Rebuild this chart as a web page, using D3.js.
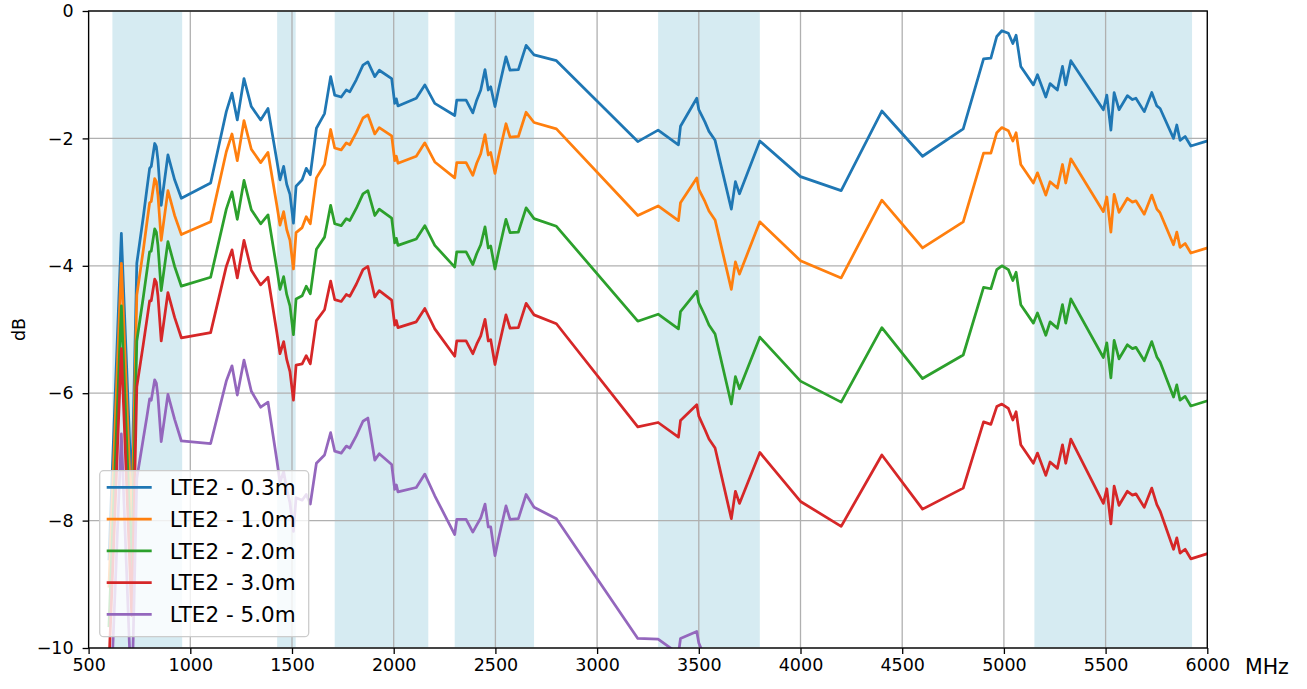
<!DOCTYPE html>
<html><head><meta charset="utf-8">
<script src="https://cdn.jsdelivr.net/npm/d3@7"></script>
<style>body{margin:0;background:#fff} svg{display:block} text{font-family:"DejaVu Sans",sans-serif}</style>
</head><body><svg id="chart" width="1307" height="689"></svg>
<script>
const freqs = [600,661,712,737,769,786,800,808,825,833,841,857,890,923,956,1100,1177,1205,1231,1264,1300,1346,1382,1425,1441,1459,1474,1490,1507,1520,1550,1570,1590,1620,1660,1690,1710,1742,1767,1784,1816,1849,1873,1907,1929,1990,2005,2013,2021,2111,2153,2202,2300,2310,2356,2389,2408,2428,2449,2465,2477,2498,2515,2552,2572,2613,2651,2690,2800,3200,3300,3400,3410,3490,3500,3530,3550,3580,3660,3680,3700,3800,4000,4200,4400,4600,4800,4900,4936,4965,4990,5022,5044,5060,5083,5145,5165,5206,5227,5263,5288,5304,5329,5489,5506,5526,5542,5566,5607,5632,5649,5690,5727,5752,5768,5834,5850,5866,5891,5919,6000];
const lte03 = [-8.60,-3.49,-7.60,-3.96,-3.23,-2.81,-2.47,-2.44,-2.08,-2.13,-2.34,-3.05,-2.26,-2.65,-2.94,-2.70,-1.58,-1.29,-1.71,-1.06,-1.50,-1.71,-1.53,-2.34,-2.65,-2.44,-2.72,-2.88,-3.33,-2.75,-2.65,-2.47,-2.57,-1.84,-1.61,-1.03,-1.32,-1.35,-1.24,-1.27,-1.08,-0.85,-0.80,-1.03,-0.93,-1.06,-1.45,-1.38,-1.49,-1.37,-1.16,-1.45,-1.64,-1.40,-1.40,-1.60,-1.40,-1.24,-0.92,-1.24,-1.19,-1.50,-1.24,-0.72,-0.93,-0.92,-0.54,-0.69,-0.78,-2.05,-1.87,-2.10,-1.81,-1.37,-1.55,-1.74,-1.89,-2.03,-3.11,-2.68,-2.87,-2.04,-2.60,-2.82,-1.57,-2.28,-1.85,-0.75,-0.74,-0.40,-0.31,-0.35,-0.51,-0.38,-0.87,-1.16,-1.00,-1.35,-1.14,-1.24,-0.87,-1.16,-0.78,-1.55,-1.32,-1.87,-1.28,-1.55,-1.33,-1.39,-1.37,-1.58,-1.28,-1.49,-1.53,-2.00,-1.79,-2.03,-1.97,-2.12,-2.04];
const lte10 = [-9.03,-3.96,-8.09,-4.46,-3.75,-3.34,-3.01,-2.99,-2.63,-2.68,-2.89,-3.60,-2.82,-3.21,-3.51,-3.31,-2.21,-1.93,-2.35,-1.72,-2.17,-2.38,-2.22,-3.04,-3.36,-3.15,-3.43,-3.60,-4.05,-3.48,-3.40,-3.23,-3.34,-2.62,-2.41,-1.86,-2.15,-2.18,-2.07,-2.10,-1.91,-1.68,-1.63,-1.93,-1.83,-1.96,-2.35,-2.28,-2.39,-2.28,-2.07,-2.37,-2.62,-2.38,-2.38,-2.58,-2.39,-2.24,-1.94,-2.26,-2.22,-2.55,-2.29,-1.77,-1.98,-1.97,-1.59,-1.75,-1.85,-3.21,-3.06,-3.29,-3.01,-2.62,-2.80,-2.99,-3.14,-3.28,-4.37,-3.94,-4.13,-3.31,-3.92,-4.19,-2.97,-3.72,-3.31,-2.23,-2.23,-1.91,-1.83,-1.88,-2.04,-1.91,-2.41,-2.70,-2.54,-2.89,-2.68,-2.78,-2.41,-2.70,-2.32,-3.15,-2.92,-3.47,-2.88,-3.16,-2.94,-3.00,-2.98,-3.19,-2.89,-3.11,-3.17,-3.67,-3.47,-3.71,-3.65,-3.80,-3.72];
const lte20 = [-9.65,-4.63,-8.79,-5.18,-4.49,-4.10,-3.78,-3.77,-3.42,-3.47,-3.68,-4.39,-3.62,-4.01,-4.32,-4.18,-3.11,-2.84,-3.27,-2.66,-3.12,-3.34,-3.20,-4.04,-4.37,-4.17,-4.45,-4.63,-5.08,-4.52,-4.47,-4.32,-4.44,-3.74,-3.55,-3.05,-3.34,-3.37,-3.26,-3.29,-3.10,-2.87,-2.82,-3.21,-3.11,-3.25,-3.64,-3.57,-3.68,-3.58,-3.37,-3.68,-4.02,-3.78,-3.78,-3.98,-3.81,-3.67,-3.39,-3.72,-3.69,-4.05,-3.79,-3.27,-3.48,-3.47,-3.09,-3.26,-3.38,-4.87,-4.76,-4.99,-4.72,-4.40,-4.58,-4.78,-4.93,-5.07,-6.17,-5.74,-5.93,-5.12,-5.81,-6.14,-4.97,-5.77,-5.40,-4.34,-4.36,-4.06,-4.00,-4.06,-4.23,-4.10,-4.61,-4.90,-4.74,-5.09,-4.88,-4.98,-4.61,-4.90,-4.52,-5.44,-5.21,-5.76,-5.17,-5.46,-5.24,-5.30,-5.28,-5.49,-5.19,-5.43,-5.51,-6.06,-5.87,-6.11,-6.05,-6.20,-6.12];
const lte30 = [-10.27,-5.30,-9.49,-5.90,-5.23,-4.86,-4.55,-4.55,-4.21,-4.26,-4.47,-5.18,-4.42,-4.81,-5.13,-5.05,-4.01,-3.75,-4.19,-3.60,-4.07,-4.30,-4.18,-5.04,-5.38,-5.19,-5.47,-5.66,-6.11,-5.56,-5.54,-5.41,-5.54,-4.86,-4.69,-4.24,-4.53,-4.56,-4.45,-4.48,-4.29,-4.06,-4.01,-4.49,-4.39,-4.54,-4.93,-4.86,-4.97,-4.88,-4.67,-4.99,-5.42,-5.18,-5.18,-5.38,-5.23,-5.10,-4.84,-5.18,-5.16,-5.55,-5.29,-4.77,-4.98,-4.97,-4.59,-4.77,-4.91,-6.53,-6.46,-6.69,-6.43,-6.18,-6.36,-6.57,-6.72,-6.86,-7.97,-7.54,-7.73,-6.93,-7.70,-8.09,-6.97,-7.82,-7.49,-6.45,-6.49,-6.21,-6.17,-6.24,-6.42,-6.29,-6.81,-7.10,-6.94,-7.29,-7.08,-7.18,-6.81,-7.10,-6.72,-7.73,-7.50,-8.05,-7.46,-7.76,-7.54,-7.60,-7.58,-7.79,-7.49,-7.75,-7.85,-8.45,-8.27,-8.51,-8.45,-8.60,-8.52];
const lte50 = [-11.51,-6.64,-10.89,-7.34,-6.71,-6.38,-6.09,-6.11,-5.79,-5.84,-6.05,-6.76,-6.02,-6.41,-6.75,-6.79,-5.81,-5.57,-6.03,-5.48,-5.97,-6.22,-6.14,-7.04,-7.40,-7.23,-7.51,-7.72,-8.17,-7.64,-7.68,-7.59,-7.74,-7.10,-6.97,-6.62,-6.91,-6.94,-6.83,-6.86,-6.67,-6.44,-6.39,-7.05,-6.95,-7.12,-7.51,-7.44,-7.55,-7.48,-7.27,-7.61,-8.22,-7.98,-7.98,-8.18,-8.07,-7.96,-7.74,-8.10,-8.10,-8.55,-8.29,-7.77,-7.98,-7.97,-7.59,-7.79,-7.97,-9.85,-9.86,-10.09,-9.85,-9.74,-9.92,-10.15,-10.30,-10.44,-11.57,-11.14,-11.33,-10.55,-11.48,-11.99,-10.97,-11.92,-11.67,-10.67,-10.75,-10.51,-10.51,-10.60,-10.80,-10.67,-11.21,-11.50,-11.34,-11.69,-11.48,-11.58,-11.21,-11.50,-11.12,-12.31,-12.08,-12.63,-12.04,-12.36,-12.14,-12.20,-12.18,-12.39,-12.09,-12.39,-12.53,-13.23,-13.07,-13.31,-13.25,-13.40,-13.32];
const seriesNames = ["LTE2 - 0.3m","LTE2 - 1.0m","LTE2 - 2.0m","LTE2 - 3.0m","LTE2 - 5.0m"];
const seriesColors = ["#1f77b4","#ff7f0e","#2ca02c","#d62728","#9467bd"];
const bandStarts = [617,1427,1710,2300,3300,5150];
const bandEnds   = [960,1518,2170,2690,3800,5925];
const xTicks = [500,1000,1500,2000,2500,3000,3500,4000,4500,5000,5500,6000];
const yTicks = [0,-2,-4,-6,-8,-10];

const svg = d3.select("#chart");
const L = 88.6, R = 1207.3, T = 11, B = 648;
const x = d3.scaleLinear().domain([500,6000]).range([L,R]);
const y = d3.scaleLinear().domain([-10,0]).range([B,T]);

svg.append("defs").append("clipPath").attr("id","clip")
  .append("rect").attr("x",L).attr("y",T).attr("width",R-L).attr("height",B-T);

// bands
svg.append("g").selectAll("rect").data(bandStarts).join("rect")
  .attr("x",(d)=>x(d)).attr("y",T)
  .attr("width",(d,i)=>x(bandEnds[i])-x(d)).attr("height",B-T)
  .attr("fill","#add8e6").attr("fill-opacity",0.5);

// grid
const grid = svg.append("g");
grid.selectAll("line.v").data(xTicks).join("line").attr("class","v")
  .attr("x1",d=>x(d)).attr("x2",d=>x(d)).attr("y1",T).attr("y2",B)
  .attr("stroke","#b0b0b0").attr("stroke-width",1.3);
grid.selectAll("line.h").data(yTicks).join("line").attr("class","h")
  .attr("y1",d=>y(d)).attr("y2",d=>y(d)).attr("x1",L).attr("x2",R)
  .attr("stroke","#b0b0b0").attr("stroke-width",1.3);

// lines
const series = [lte03,lte10,lte20,lte30,lte50];
const line = d3.line().x((d,i)=>x(freqs[i])).y(d=>y(d));
svg.append("g").attr("clip-path","url(#clip)").selectAll("path").data(series).join("path")
  .attr("d",d=>line(d)).attr("fill","none")
  .attr("stroke",(d,i)=>seriesColors[i]).attr("stroke-width",2.75)
  .attr("stroke-linejoin","round").attr("stroke-linecap","square");

// axes
const fmtY = d => d===0 ? "0" : "\u2212"+Math.abs(d);
const xAxis = svg.append("g").attr("transform",`translate(0,${B})`)
  .call(d3.axisBottom(x).tickValues(xTicks).tickSize(6).tickPadding(5).tickFormat(d3.format("d")));
const yAxis = svg.append("g").attr("transform",`translate(${L},0)`)
  .call(d3.axisLeft(y).tickValues(yTicks).tickSize(6).tickPadding(9).tickFormat(fmtY));
[xAxis,yAxis].forEach(a=>{
  a.select(".domain").remove();
  a.selectAll(".tick line").attr("stroke","#000").attr("stroke-width",1.3);
  a.selectAll(".tick text").attr("fill","#000").style("font-size","17.5px").style("font-family","DejaVu Sans");
});

// frame
svg.append("rect").attr("x",L).attr("y",T).attr("width",R-L).attr("height",B-T)
  .attr("fill","none").attr("stroke","#000").attr("stroke-width",1.3);

// axis labels
svg.append("text").attr("x",1245).attr("y",B+26).text("MHz")
  .style("font-size","20.5px").attr("fill","#000");
svg.append("text").attr("transform",`translate(25,${(T+B)/2}) rotate(-90)`)
  .attr("text-anchor","middle").text("dB").style("font-size","17.5px").attr("fill","#000");

// legend
const lg = svg.append("g").attr("transform","translate(99.7,470.7)");
lg.append("rect").attr("width",209).attr("height",166).attr("rx",4)
  .attr("fill","#fff").attr("fill-opacity",0.8).attr("stroke","#cccccc").attr("stroke-width",1.3);
seriesNames.forEach((n,i)=>{
  const yy = 16.6 + i*31.75;
  lg.append("line").attr("x1",7).attr("x2",52).attr("y1",yy).attr("y2",yy)
    .attr("stroke",seriesColors[i]).attr("stroke-width",2.75);
  lg.append("text").attr("x",70).attr("y",yy+7.8).text(n)
    .style("font-size","21.5px").attr("fill","#000");
});
</script></body></html>
